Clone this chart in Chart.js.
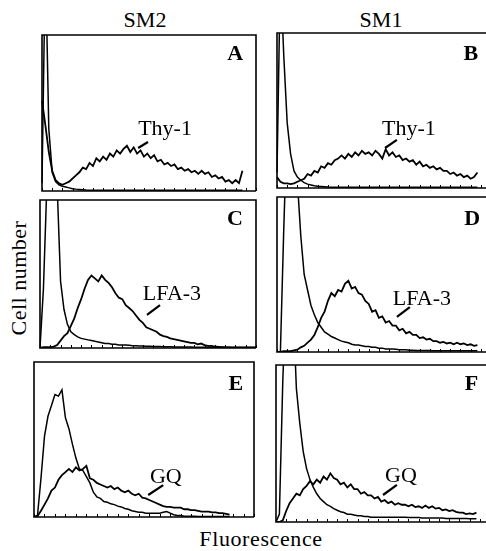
<!DOCTYPE html>
<html>
<head>
<meta charset="utf-8">
<script src="https://cdn.jsdelivr.net/npm/chart.js@4.4.1/dist/chart.umd.min.js"></script>
<style>
  html, body { margin: 0; padding: 0; background: #fff; }
  body { width: 486px; height: 551px; position: relative; overflow: hidden; font-family: "Liberation Serif", "DejaVu Serif", serif; color: #000; }
  canvas { position: absolute; }
  .txt { position: absolute; font-size: 22px; line-height: 22px; white-space: nowrap; }
</style>
</head>
<body>

<div class="txt" style="left:145px; top:9px; transform:translateX(-50%);">SM2</div>
<div class="txt" style="left:381px; top:9px; transform:translateX(-50%);">SM1</div>
<div class="txt" style="left:19px; top:278px; letter-spacing:0.5px; transform:translate(-50%,-50%) rotate(-90deg);">Cell number</div>
<div class="txt" style="left:261px; top:528px; letter-spacing:0.6px; transform:translateX(-50%);">Fluorescence</div>

<canvas id="chartA" width="218" height="160" style="left:40px; top:33px;"></canvas>
<canvas id="chartB" width="218" height="159" style="left:275px; top:31px;"></canvas>
<canvas id="chartC" width="220" height="152" style="left:38px; top:198px;"></canvas>
<canvas id="chartD" width="218" height="159" style="left:275px; top:195px;"></canvas>
<canvas id="chartE" width="224" height="159" style="left:32px; top:360px;"></canvas>
<canvas id="chartF" width="218" height="161" style="left:274px; top:363px;"></canvas>

<script>
// 64 fluorescence channels, values in % of panel height (over 100 = off scale)
const channels = Array.from({ length: 64 }, (_, i) => i);

// Thy-1, SM2 (panel A)
const thyControlSM2 = [5, 150, 40, 12, 6, 4, 3, 2.5, 2, 1.5, 1.2, 1, 0.8, 0.6, 0.5, 0.5,
  0.5, 0.5, 0.5, 0.5, 0.5, 0.5, 0.5, 0.5, 0.5, 0.5, 0.5, 0.5, 0.5, 0.5, 0.5, 0.5,
  0.5, 0.5, 0.5, 0.5, 0.5, 0.5, 0.5, 0.5, 0.5, 0.5, 0.5, 0.5, 0.5, 0.5, 0.5, 0.5,
  0.5, 0.5, 0.5, 0.5, 0.5, 0.5, 0.5, 0.5, 0.5, 0.5, 0.5, 0.5, null, null, null, null];
const thySM2 = [58, 42, 25, 13, 7, 5, 4, 5, 6, 8, 10, 12, 15, 14, 18, 16,
  21, 19, 22, 20, 24, 22, 26, 24, 27, 29, 25, 28, 24, 26, 22, 24,
  21, 23, 19, 20, 17, 18, 16, 17, 14, 15, 13, 14, 12, 13, 11, 13,
  11, 12, 9, 10, 8, 9, 6, 7, 5, 7, 5, 13, null, null, null, null];

// Thy-1, SM1 (panel B)
const thyControlSM1 = [10, 140, 85, 42, 22, 11, 7, 5, 3.5, 2.5, 2, 1.5, 1.2, 1, 0.8, 0.6,
  0.5, 0.5, 0.5, 0.5, 0.5, 0.5, 0.5, 0.5, 0.5, 0.5, 0.5, 0.5, 0.5, 0.5, 0.5, 0.5,
  0.5, 0.5, 0.5, 0.5, 0.5, 0.5, 0.5, 0.5, 0.5, 0.5, 0.5, 0.5, 0.5, 0.5, 0.5, 0.5,
  0.5, 0.5, 0.5, 0.5, 0.5, 0.5, 0.5, 0.5, 0.5, 0.5, 0.5, 0.5, null, null, null, null];
const thySM1 = [7, 4, 3, 3, 2.5, 3, 4, 5, 6, 9, 8, 11, 10, 14, 13, 16,
  15, 18, 19, 21, 19, 22, 20, 23, 21, 24, 22, 23, 21, 24, 22, 19,
  25, 21, 23, 20, 21, 18, 19, 17, 18, 15, 17, 14, 15, 13, 14, 12,
  13, 11, 11, 9, 10, 8, 9, 7, 8, 6, 7, 10, null, null, null, null];

// LFA-3, SM2 (panel C)
const lfaControlSM2 = [0, 40, 110, 150, 150, 110, 45, 26, 16, 11, 9, 7.5, 6.5, 6, 5.5, 5,
  4.5, 4, 3.5, 3, 3, 2.5, 2.5, 2, 2, 2, 1.8, 1.6, 1.5, 1.4, 1.3, 1.2,
  1.1, 1, 1, 1, 0.8, 0.8, 0.8, 0.7, 0.7, 0.7, 0.6, 0.6, 0.6, 0.5, 0.5, 0.5,
  0.5, 0.5, 0.5, 0.5, 0.5, 0.5, 0.5, 0.5, 0.5, 0.5, 0.5, 0.5, 0.5, 0.5, 0.5, 0.5];
const lfaSM2 = [0, 0.5, 0.5, 0.5, 1, 2, 5, 8, 10, 15, 20, 27, 33, 40, 46, 49,
  47, 45, 49, 46, 44, 41, 37, 34, 33, 29, 27, 25, 22, 19, 17, 14,
  13, 12, 11, 9, 8, 7.5, 6.5, 6, 5.5, 5, 4.5, 4, 3.5, 3.5, 2.5, 3,
  2, 1.5, 1.5, 1, 0.8, 0.6, 0.4, 0.4, 0.3, 0.3, 0.3, 0.3, 0.3, 0.3, 0.3, 0.3];

// LFA-3, SM1 (panel D)
const lfaControlSM1 = [0, 0, 80, 150, 150, 150, 110, 75, 50, 40, 30, 24, 19, 16, 13, 11.5,
  10, 9, 8, 7, 6.5, 6, 5, 4.5, 4.5, 4, 3.5, 3.5, 3, 3, 2.5, 2.5,
  2, 2, 2, 1.8, 1.5, 1.5, 1.5, 1.2, 1.2, 1, 1, 1, 1, 1, 0.8, 0.8,
  0.8, 0.8, 0.8, 0.8, 0.8, 0.8, 0.8, 0.8, 0.8, 0.8, 0.8, 0.8, null, null, null, null];
const lfaSM1 = [0, 0, 0.5, 0.5, 0.5, 1, 1.5, 3, 4, 6, 8, 11, 16, 22, 26, 33,
  38, 36, 40, 39, 44, 46, 41, 42, 38, 37, 33, 31, 26, 27, 22, 23,
  19, 20, 17, 17, 14, 15, 12, 13, 11, 11, 9, 9.5, 8, 8.5, 7, 7,
  6, 6.5, 5.5, 6, 5, 6, 5, 5.5, 4.5, 5, 4, 4.5, null, null, null, null];

// GQ, SM2 (panel E)
const gqControlSM2 = [0, 1, 25, 52, 65, 72, 79, 78, 82, 64, 57, 47, 38, 31, 30, 26,
  22, 16, 13, 12, 10, 9.5, 8.5, 8, 7, 6.5, 5.5, 5, 4, 3.5, 3, 3,
  2.5, 2.5, 2.5, 2.5, 2.5, 3, 3.5, 2.5, 1.5, 1, 1, 0.5, 0.5, 0.5, 0.5, 0.4,
  0.4, 0.4, 0.4, 0.4, 0.4, 0.4, 0.4, 0.4, 0.4, null, null, null, null, null, null, null];
const gqSM2 = [0, 0.5, 4, 8, 12, 17, 19, 24, 27, 29, 31, 29, 32, 30, 31, 33,
  25, 24, 22, 21, 20, 19, 20, 18, 19, 17, 16, 17, 15, 14, 15, 12.5,
  12, 11, 10, 9, 8, 7, 6.5, 6.5, 6, 6, 6, 5, 5, 4.5, 4.5, 4,
  3.5, 3.5, 3.5, 3, 3, 2.5, 2.5, 2, 1.5, null, null, null, null, null, null, null];

// GQ, SM1 (panel F)
const gqControlSM1 = [0, 5, 90, 150, 150, 140, 85, 63, 45, 34, 27, 22, 18, 15, 13, 11,
  10, 8.5, 7.5, 6.5, 6, 5, 5, 4.5, 4, 4, 3.5, 3.5, 3, 3, 3, 3,
  3, 3, 3, 3, 3, 3, 3, 2.8, 2.8, 2.8, 2.8, 2.5, 2.5, 2.5, 2.5, 2.5,
  2.5, 2.5, 2.3, 2.3, 2.3, 2.3, 2.2, 2.2, 2.2, 2, 2, 2, null, null, null, null];
const gqSM1 = [0, 0, 1, 7, 12, 15, 18, 17, 21, 23, 26, 24, 27, 25, 29, 27,
  31, 28, 27, 24, 25, 22, 24, 21, 21, 18, 19, 17, 17, 15, 16, 13,
  14, 12, 13, 11, 12, 11, 11, 10, 11, 9.5, 10, 9, 10.5, 9, 10, 8.5,
  9, 7.5, 8, 7, 7.5, 6.5, 6, 6, 5, 5.5, 5, 6, null, null, null, null];

// frame, tick marks, panel letter and labelled leader line
const framePlugin = {
  id: "frame",
  afterDatasetsDraw(chart, args, opts) {
    const { ctx, chartArea: a, scales: { x, y } } = chart;
    ctx.save();
    ctx.strokeStyle = "#000";
    ctx.lineWidth = 1.6;
    ctx.beginPath();
    ctx.moveTo(a.right, a.bottom);
    ctx.lineTo(a.left, a.bottom);
    ctx.lineTo(a.left, a.top);
    ctx.lineTo(a.right, a.top);
    if (!opts.openRight) ctx.lineTo(a.right, a.bottom);
    ctx.stroke();

    ctx.lineWidth = 1;
    ctx.beginPath();
    for (let i = 0; i < channels.length; i += 3) {
      const px = Math.round(x.getPixelForValue(i)) + 0.5;
      ctx.moveTo(px, a.bottom);
      ctx.lineTo(px, a.bottom - 3);
    }
    ctx.stroke();

    ctx.lineWidth = 2.2;
    ctx.beginPath();
    ctx.moveTo(x.getPixelForValue(opts.leader[0]), y.getPixelForValue(opts.leader[1]));
    ctx.lineTo(x.getPixelForValue(opts.leader[2]), y.getPixelForValue(opts.leader[3]));
    ctx.stroke();

    ctx.fillStyle = "#000";
    ctx.textBaseline = "alphabetic";
    ctx.textAlign = "left";
    ctx.font = '22px "Liberation Serif"';
    ctx.fillText(opts.label, x.getPixelForValue(opts.labelAt[0]), y.getPixelForValue(opts.labelAt[1]));
    ctx.textAlign = "right";
    ctx.font = 'bold 22px "Liberation Serif"';
    ctx.fillText(opts.letter, x.getPixelForValue(opts.letterAt[0]), y.getPixelForValue(opts.letterAt[1]));
    ctx.restore();
  }
};

function drawPanel(id, control, stained, frame) {
  const el = document.getElementById(id);
  if (!el) return;
  new Chart(el.getContext("2d"), {
    type: "line",
    data: {
      labels: channels,
      datasets: [
        { data: control, borderColor: "#000", borderWidth: 1.5, pointRadius: 0, tension: 0 },
        { data: stained, borderColor: "#000", borderWidth: 1.8, pointRadius: 0, tension: 0 }
      ]
    },
    options: {
      responsive: false,
      animation: false,
      events: [],
      layout: { padding: 2 },
      plugins: {
        legend: { display: false },
        tooltip: { enabled: false },
        frame: frame
      },
      scales: {
        x: { display: false },
        y: { display: false, min: 0, max: 100 }
      }
    },
    plugins: [framePlugin]
  });
}

drawPanel("chartA", thyControlSM2, thySM2,
  { letter: "A", letterAt: [59.2, 84], label: "Thy-1", labelAt: [28.3, 35.9], leader: [28.3, 27.6, 31.2, 31.4] });
drawPanel("chartB", thyControlSM1, thySM1,
  { letter: "B", letterAt: [59.2, 82.6], label: "Thy-1", labelAt: [30.9, 34.2], leader: [31.8, 25.8, 35.3, 31], openRight: true });
drawPanel("chartC", lfaControlSM2, lfaSM2,
  { letter: "C", letterAt: [59.2, 83.1], label: "LFA-3", labelAt: [30.0, 32.4], leader: [31.2, 22.3, 35, 29] });
drawPanel("chartD", lfaControlSM1, lfaSM1,
  { letter: "D", letterAt: [59.8, 81.9], label: "LFA-3", labelAt: [34.1, 30.3], leader: [35.3, 22.6, 39.1, 29], openRight: true });
drawPanel("chartE", gqControlSM2, gqSM2,
  { letter: "E", letterAt: [59.9, 81.9], label: "GQ", labelAt: [33.2, 21.9], leader: [32.7, 14.2, 37, 20.6] });
drawPanel("chartF", gqControlSM1, gqSM1,
  { letter: "F", letterAt: [59.5, 84], label: "GQ", labelAt: [32.1, 25.5], leader: [31.5, 17.2, 35.6, 23.6], openRight: true });
</script>
</body>
</html>
